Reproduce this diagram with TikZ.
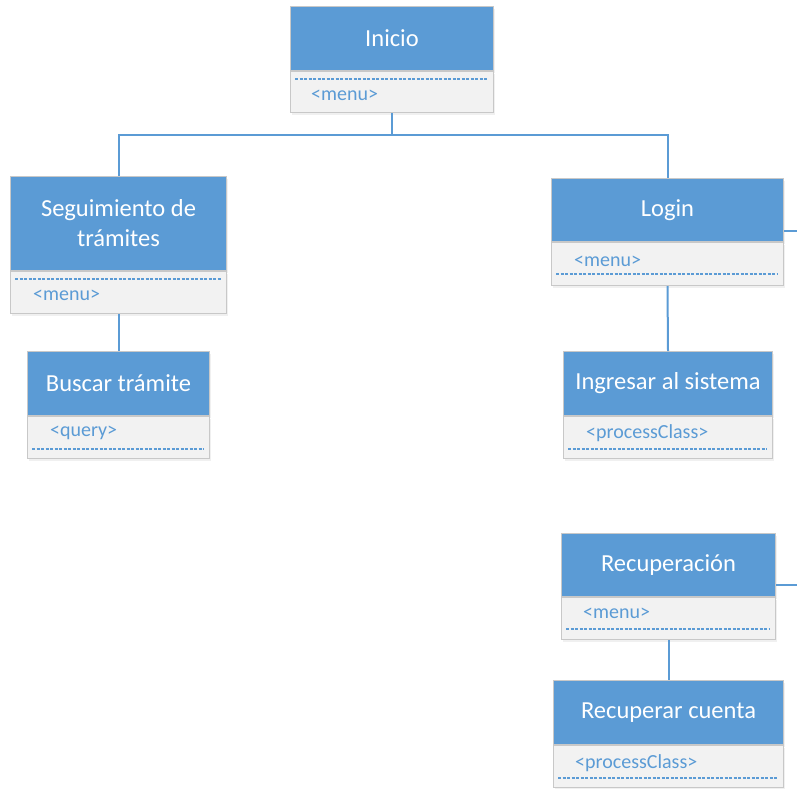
\documentclass[tikz,border=0pt]{standalone}
\usepackage{fontspec}
\setmainfont{Carlito}
\usetikzlibrary{shadows}
\definecolor{hdrblue}{HTML}{5B9BD5}
\definecolor{cmpgrey}{HTML}{F2F2F2}
\definecolor{edgegrey}{HTML}{C8C8C8}
\definecolor{linkblue}{HTML}{5B9BD5}
\tikzset{
  hdr/.style={draw=edgegrey, line width=1pt, fill=hdrblue, text=white, align=center,
    inner sep=0pt, font=\fontsize{24.5}{30}\selectfont,
    drop shadow={opacity=0.12, shadow xshift=1.5pt, shadow yshift=-2pt}},
  cmp/.style={draw=edgegrey, line width=1pt, fill=cmpgrey, inner sep=0pt,
    drop shadow={opacity=0.12, shadow xshift=1.5pt, shadow yshift=-2pt}},
  stereo/.style={text=hdrblue, inner sep=0pt, anchor=west, font=\fontsize{20}{24}\selectfont},
  sepline/.style={draw=hdrblue, line width=1.2pt, dash pattern=on 3pt off 1.5pt},
  link/.style={draw=linkblue, line width=2pt},
}
\begin{document}
\begin{tikzpicture}[x=1pt, y=-1pt]
\useasboundingbox (0,0) rectangle (797,788);

% Inicio
\node[hdr, minimum width=203pt, minimum height=64pt, anchor=north west] (ini) at (290,6) {Inicio};
\node[cmp, minimum width=203pt, minimum height=41pt, anchor=north] (ini-c) at (ini.south) {};
\draw[sepline] (295,79) -- (488,79);
\node[stereo] (ini-t) at (311,95.5) {<menu>};

% Seguimiento de trámites
\node[hdr, minimum width=216pt, minimum height=94pt, anchor=north west] (seg) at (10,176) {Seguimiento de\\trámites};
\node[cmp, minimum width=216pt, minimum height=42pt, anchor=north] (seg-c) at (seg.south) {};
\draw[sepline] (15,279) -- (221,279);
\node[stereo] (seg-t) at (33,295.5) {<menu>};

% Buscar trámite
\node[hdr, minimum width=182pt, minimum height=64pt, anchor=north west] (bus) at (27,351) {Buscar trámite};
\node[cmp, minimum width=182pt, minimum height=42pt, anchor=north] (bus-c) at (bus.south) {};
\node[stereo] (bus-t) at (50,433) {<query>};
\draw[sepline] (32,449) -- (204,449);

% Login
\node[hdr, minimum width=232pt, minimum height=63pt, anchor=north west] (log) at (551,178) {Login};
\node[cmp, minimum width=232pt, minimum height=43pt, anchor=north] (log-c) at (log.south) {};
\node[stereo] (log-t) at (574,261) {<menu>};
\draw[sepline] (556,274) -- (778,274);

% Ingresar al sistema
\node[hdr, minimum width=209pt, minimum height=64pt, anchor=north west] (ing) at (563,351) {Ingresar al sistema};
\node[cmp, minimum width=209pt, minimum height=42pt, anchor=north] (ing-c) at (ing.south) {};
\node[stereo] (ing-t) at (586,433) {<processClass>};
\draw[sepline] (568,449) -- (767,449);

% Recuperación
\node[hdr, minimum width=214pt, minimum height=63pt, anchor=north west] (rec) at (561,533) {Recuperación};
\node[cmp, minimum width=214pt, minimum height=42pt, anchor=north] (rec-c) at (rec.south) {};
\node[stereo] (rec-t) at (583,613) {<menu>};
\draw[sepline] (566,629) -- (770,629);

% Recuperar cuenta
\node[hdr, minimum width=230pt, minimum height=64pt, anchor=north west] (rcu) at (553,680) {Recuperar cuenta};
\node[cmp, minimum width=230pt, minimum height=42pt, anchor=north] (rcu-c) at (rcu.south) {};
\node[stereo] (rcu-t) at (575,763) {<processClass>};
\draw[sepline] (558,778) -- (778,778);

% Connectors
\draw[link] (ini-c.south) -- ++(0,22) coordinate (split);
\draw[link] (seg.north) |- (split) -| (log.north);
\draw[link] (seg-c.south) -- (bus.north);
\draw[link] (log-c.south) -- (ing.north);
\draw[link] (rec-c.south) -- (rcu.north);
\coordinate (log-out) at (797,231);
\coordinate (rec-out) at (797,585);
\draw[link] (log.east |- log-out) -- (log-out);
\draw[link] (rec.east |- rec-out) -- (rec-out);
\end{tikzpicture}
\end{document}
